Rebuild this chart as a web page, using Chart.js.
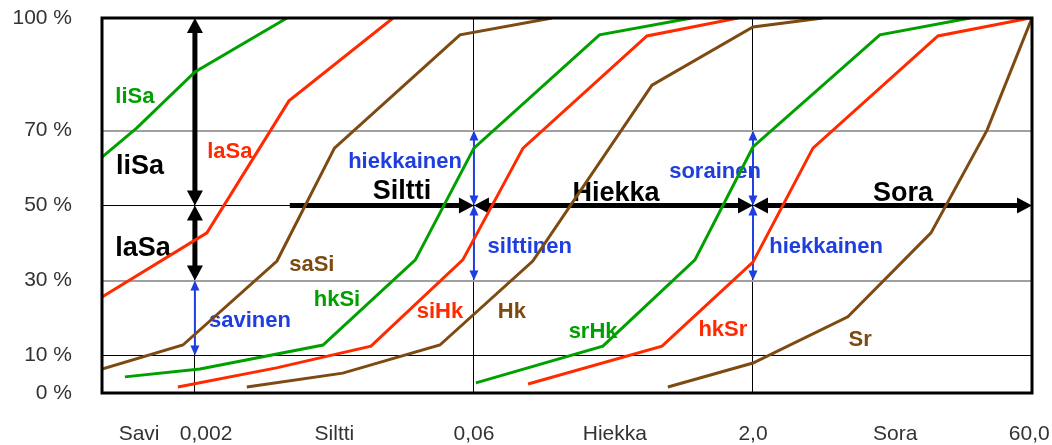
<!DOCTYPE html>
<html>
<head>
<meta charset="utf-8">
<script src="https://cdn.jsdelivr.net/npm/chart.js@4"></script>
<style>
  body { margin: 0; background: #fff; }
  canvas { display: block; }
</style>
</head>
<body>
<canvas id="grain" width="1052" height="445"></canvas>
<script>
// x is the class position: 0 = 0,002 mm, 1 = 0,06 mm, 2 = 2,0 mm, 3 = 60,0 mm
const xTickPos = [-0.2, 0.04, 0.5, 1, 1.505, 2, 2.51, 2.99];
const xTickLabels = ['Savi', '0,002', 'Siltti', '0,06', 'Hiekka', '2,0', 'Sora', '60,0'];
const classBounds = [0, 1, 2];
const yTicks = [0, 10, 30, 50, 70, 100];

const liSaX = [-0.333, -0.208, 0, 0.33];
const liSaY = [62.9, 70.7, 85.6, 100];
const laSaX = [-0.333, 0.043, 0.337, 0.71];
const laSaY = [25.6, 42.7, 77.9, 100];
const saSiX = [-0.333, -0.043, 0.294, 0.5, 0.95, 1.28];
const saSiY = [6.4, 12.8, 35.2, 65.3, 95.5, 100];
const hkSiX = [-0.251, 0.018, 0.459, 0.79, 1.0, 1.45, 1.78];
const hkSiY = [4.3, 6.4, 12.8, 35.5, 65.3, 95.5, 100];
const siHkX = [-0.061, 0.292, 0.631, 0.96, 1.176, 1.62, 1.946];
const siHkY = [1.6, 6.7, 12.5, 35.5, 65.3, 95.2, 100];
const hkX = [0.186, 0.53, 0.878, 1.211, 1.638, 2.0, 2.25];
const hkY = [1.6, 5.3, 12.8, 35.2, 82.1, 97.6, 100];
const srHkX = [1.007, 1.462, 1.792, 2.0, 2.455, 2.778];
const srHkY = [2.7, 12.5, 35.5, 65.6, 95.5, 100];
const hkSrX = [1.194, 1.674, 2.0, 2.215, 2.663, 2.993];
const hkSrY = [2.4, 12.5, 34.9, 65.3, 95.2, 100];
const srX = [1.695, 2.0, 2.34, 2.638, 2.839, 3.0];
const srY = [1.6, 8, 20.3, 42.7, 70.1, 100];

const GREEN = '#00a000', RED = '#ff2a00', BROWN = '#7d4a12', BLUE = '#1e3ee0';
const FONT = "'Liberation Sans', Arial, sans-serif";

// text labels: [text, x, y%, colour]
const curveNames = [
  ['liSa', -0.215, 78.9, GREEN], ['laSa', 0.125, 64.3, RED], ['saSi', 0.419, 34.1, BROWN],
  ['hkSi', 0.509, 24.8, GREEN], ['siHk', 0.878, 21.6, RED], ['Hk', 1.136, 21.6, BROWN],
  ['srHk', 1.427, 16.3, GREEN], ['hkSr', 1.892, 16.8, RED], ['Sr', 2.384, 14.1, BROWN]
];
const classNames = [
  ['liSa', -0.197, 60.5], ['laSa', -0.186, 38.4],
  ['Siltti', 0.742, 53.6], ['Hiekka', 1.509, 53.3], ['Sora', 2.538, 53.3]
];
const prefixNames = [
  ['savinen', 0.197, 19.2], ['hiekkainen', 0.753, 61.6], ['silttinen', 1.2, 38.9],
  ['sorainen', 1.864, 58.9], ['hiekkainen', 2.262, 38.9]
];
// arrows: [x1, y1, x2, y2, headAtStart, headAtEnd]
const blackArrows = [
  [0, 100, 0, 50, true, true], [0, 50, 0, 30, true, true],
  [0.34, 50, 1, 50, false, true], [1, 50, 2, 50, true, true], [2, 50, 3, 50, true, true]
];
const blueArrows = [
  [0, 30, 0, 10, true, true], [1, 70, 1, 50, true, true], [1, 50, 1, 30, true, true],
  [2, 70, 2, 50, true, true], [2, 50, 2, 30, true, true]
];

function pts(xs, ys) { return xs.map((x, i) => ({ x, y: ys[i] })); }
function series(label, xs, ys, color) {
  return { label, data: pts(xs, ys), borderColor: color, borderWidth: 3, pointRadius: 0, tension: 0, fill: false };
}

function arrow(ctx, x1, y1, x2, y2, a, b, color, lw, len, half) {
  const ang = Math.atan2(y2 - y1, x2 - x1);
  const dx = Math.cos(ang), dy = Math.sin(ang);
  const sx = a ? x1 + dx * len * 0.8 : x1, sy = a ? y1 + dy * len * 0.8 : y1;
  const ex = b ? x2 - dx * len * 0.8 : x2, ey = b ? y2 - dy * len * 0.8 : y2;
  ctx.strokeStyle = color; ctx.fillStyle = color; ctx.lineWidth = lw;
  ctx.beginPath(); ctx.moveTo(sx, sy); ctx.lineTo(ex, ey); ctx.stroke();
  const head = (tx, ty, d) => {
    const bx = tx - d * dx * len, by = ty - d * dy * len;
    ctx.beginPath();
    ctx.moveTo(tx, ty);
    ctx.lineTo(bx - dy * half, by + dx * half);
    ctx.lineTo(bx + dy * half, by - dx * half);
    ctx.closePath(); ctx.fill();
  };
  if (a) head(x1, y1, -1);
  if (b) head(x2, y2, 1);
}

const overlay = {
  id: 'overlay',
  beforeDatasetsDraw(chart) {
    const { ctx, scales: { x, y } } = chart;
    ctx.save();
    ctx.textAlign = 'center';
    ctx.textBaseline = 'middle';
    ctx.font = 'bold 27px ' + FONT;
    ctx.fillStyle = '#000';
    classNames.forEach(([t, u, p]) => ctx.fillText(t, x.getPixelForValue(u), y.getPixelForValue(p)));
    blackArrows.forEach(([u1, p1, u2, p2, a, b]) =>
      arrow(ctx, x.getPixelForValue(u1), y.getPixelForValue(p1), x.getPixelForValue(u2), y.getPixelForValue(p2), a, b, '#000', 5, 15, 8));
    blueArrows.forEach(([u1, p1, u2, p2, a, b]) =>
      arrow(ctx, x.getPixelForValue(u1), y.getPixelForValue(p1), x.getPixelForValue(u2), y.getPixelForValue(p2), a, b, BLUE, 2, 10, 4.5));
    ctx.font = 'bold 22px ' + FONT;
    curveNames.forEach(([t, u, p, c]) => { ctx.fillStyle = c; ctx.fillText(t, x.getPixelForValue(u), y.getPixelForValue(p)); });
    ctx.fillStyle = BLUE;
    prefixNames.forEach(([t, u, p]) => ctx.fillText(t, x.getPixelForValue(u), y.getPixelForValue(p)));
    ctx.restore();
  },
  afterDatasetsDraw(chart) {
    const { ctx, chartArea: a } = chart;
    ctx.save();
    ctx.strokeStyle = '#000';
    ctx.lineWidth = 3;
    ctx.strokeRect(a.left, a.top, a.right - a.left, a.bottom - a.top);
    ctx.restore();
  }
};

new Chart(document.getElementById('grain'), {
  type: 'line',
  data: {
    datasets: [
      series('liSa', liSaX, liSaY, GREEN),
      series('laSa', laSaX, laSaY, RED),
      series('saSi', saSiX, saSiY, BROWN),
      series('hkSi', hkSiX, hkSiY, GREEN),
      series('siHk', siHkX, siHkY, RED),
      series('Hk', hkX, hkY, BROWN),
      series('srHk', srHkX, srHkY, GREEN),
      series('hkSr', hkSrX, hkSrY, RED),
      series('Sr', srX, srY, BROWN)
    ]
  },
  options: {
    responsive: false,
    animation: false,
    layout: { padding: { top: 18, right: 20, left: 0, bottom: 0 } },
    plugins: { legend: { display: false }, tooltip: { enabled: false } },
    scales: {
      x: {
        type: 'linear', min: -0.333, max: 3,
        afterBuildTicks: s => { s.ticks = xTickPos.map(v => ({ value: v })); },
        afterFit: s => { s.height = 52; s.paddingLeft = 0; s.paddingRight = 0; s.paddingTop = 0; s.paddingBottom = 0; },
        ticks: {
          autoSkip: false, maxRotation: 0, padding: 29, color: '#333',
          font: { family: FONT, size: 21 },
          callback: (v, i) => xTickLabels[i]
        },
        grid: { display: false, drawTicks: false },
        border: { display: false }
      },
      xg: {
        type: 'linear', position: 'top', min: -0.333, max: 3,
        afterBuildTicks: s => { s.ticks = classBounds.map(v => ({ value: v })); },
        afterFit: s => { s.height = 0; s.paddingLeft = 0; s.paddingRight = 0; s.paddingTop = 0; s.paddingBottom = 0; },
        ticks: { display: false },
        grid: { color: '#000', lineWidth: 1, drawTicks: false },
        border: { display: false }
      },
      y: {
        type: 'linear', min: 0, max: 100,
        afterBuildTicks: s => { s.ticks = yTicks.map(v => ({ value: v })); },
        afterFit: s => { s.width = 102; s.paddingTop = 0; s.paddingBottom = 0; s.paddingLeft = 0; s.paddingRight = 0; },
        ticks: {
          padding: 30, color: '#333',
          font: { family: FONT, size: 21 },
          callback: v => v + ' %'
        },
        grid: {
          drawTicks: false,
          color: c => (c.tick.value === 10 || c.tick.value === 50) ? '#000'
            : (c.tick.value === 30 || c.tick.value === 70) ? '#a0a0a0' : 'rgba(0,0,0,0)',
          lineWidth: c => (c.tick.value === 30 || c.tick.value === 70) ? 2 : 1
        },
        border: { display: false }
      }
    }
  },
  plugins: [overlay]
});
</script>
</body>
</html>
